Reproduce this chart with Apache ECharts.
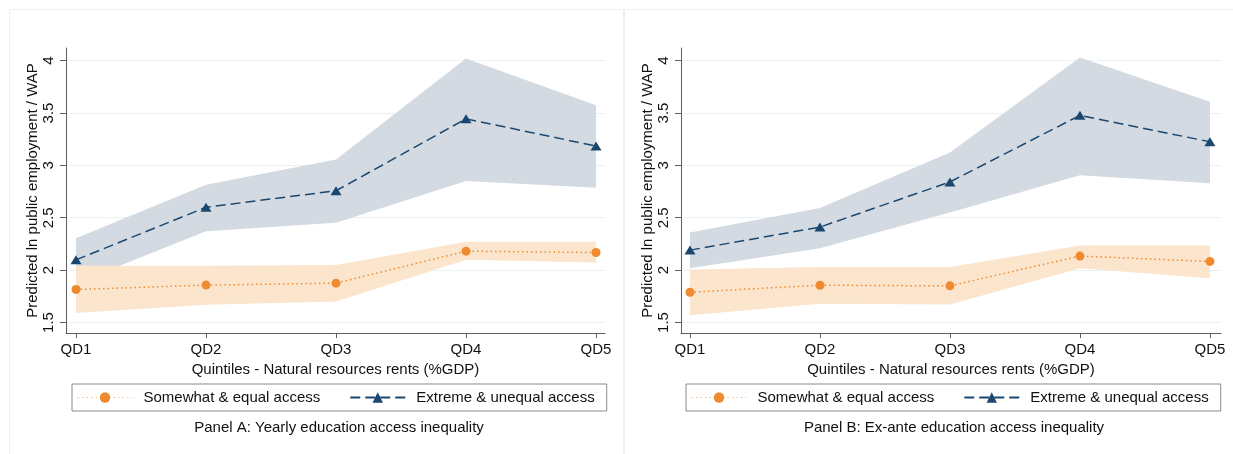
<!DOCTYPE html>
<html>
<head>
<meta charset="utf-8">
<script src="https://cdn.jsdelivr.net/npm/echarts@6/dist/echarts.min.js"></script>
<style>
  html, body { margin: 0; padding: 0; background: #fff; }
  #chart { width: 1233px; height: 454px; }
</style>
</head>
<body>
<div id="chart"></div>
<script>
// Quintile positions and tick labels
const quintiles = [1, 2, 3, 4, 5];
const quintileLabels = ['QD1', 'QD2', 'QD3', 'QD4', 'QD5'];
const yTicks = [1.5, 2, 2.5, 3, 3.5, 4];

const seriesNames = ['Somewhat & equal access', 'Extreme & unequal access'];

// Panel A: yearly education access inequality
const aEqual = [1.815, 1.857, 1.876, 2.181, 2.168];
const aEqualLo = [1.59, 1.67, 1.70, 2.098, 2.073];
const aEqualHi = [2.041, 2.041, 2.048, 2.27, 2.27];
const aUnequal = [2.098, 2.60, 2.758, 3.444, 3.184];
const aUnequalLo = [1.876, 2.371, 2.453, 2.85, 2.787];
const aUnequalHi = [2.305, 2.815, 3.057, 4.02, 3.574];

// Panel B: ex-ante education access inequality
const bEqual = [1.789, 1.856, 1.85, 2.134, 2.083];
const bEqualLo = [1.569, 1.68, 1.672, 2.019, 1.923];
const bEqualHi = [2.007, 2.029, 2.029, 2.236, 2.236];
const bUnequal = [2.191, 2.411, 2.842, 3.477, 3.225];
const bUnequalLo = [2.019, 2.21, 2.549, 2.906, 2.83];
const bUnequalHi = [2.358, 2.593, 3.123, 4.03, 3.608];

const captions = ['Panel A: Yearly education access inequality', 'Panel B: Ex-ante education access inequality'];
const xTitle = 'Quintiles - Natural resources rents (%GDP)';
const yTitle = 'Predicted ln public employment / WAP';

const FONT = '"Liberation Sans", Arial, Helvetica, sans-serif';
const FS = 15;
const NAVY = '#1a476f';
const ORANGE = '#ef8a2f';
const NAVY_BAND = '#d3dae2';
const ORANGE_BAND = '#fbe5cd';
const GRID_LINE = '#eaf1f3';
const AXIS_COLOR = '#5e5e5e';

const panels = [
  { left: 66, width: 539, xMin: 0.923, xMax: 5.069, legendLeft: 72, captionX: 339,
    eq: aEqual, eqLo: aEqualLo, eqHi: aEqualHi, un: aUnequal, unLo: aUnequalLo, unHi: aUnequalHi },
  { left: 681, width: 540, xMin: 0.931, xMax: 5.085, legendLeft: 686, captionX: 954,
    eq: bEqual, eqLo: bEqualLo, eqHi: bEqualHi, un: bUnequal, unLo: bUnequalLo, unHi: bUnequalHi }
];

function pairs(values) {
  return values.map((v, i) => [quintiles[i], v]);
}

// Confidence band drawn as one filled polygon through the axis scales
function band(idx, lo, hi, color, z) {
  return {
    type: 'custom',
    xAxisIndex: idx,
    yAxisIndex: idx,
    z: z,
    silent: true,
    data: lo.map((v, i) => [quintiles[i], v, hi[i]]),
    encode: { x: 0, y: [1, 2] },
    renderItem: function (params, api) {
      if (params.dataIndex !== 0) return null;
      const top = hi.map((v, i) => api.coord([quintiles[i], v]));
      const bottom = lo.map((v, i) => api.coord([quintiles[i], v])).reverse();
      return {
        type: 'polygon',
        shape: { points: top.concat(bottom) },
        style: { fill: color }
      };
    }
  };
}

const grids = [], xAxes = [], yAxes = [], series = [], legends = [], graphics = [];

panels.forEach((p, idx) => {
  grids.push({ left: p.left, top: 48, width: p.width, height: 285 });

  xAxes.push({
    type: 'value', gridIndex: idx, min: p.xMin, max: p.xMax,
    name: xTitle, nameLocation: 'middle', nameGap: 26,
    nameTextStyle: { fontSize: FS, color: '#111', fontFamily: FONT },
    axisLine: { show: true, onZero: false, lineStyle: { color: AXIS_COLOR, width: 1 } },
    axisTick: { show: true, length: 5, customValues: quintiles, lineStyle: { color: AXIS_COLOR } },
    axisLabel: {
      customValues: quintiles, margin: 9, fontSize: FS, color: '#111', fontFamily: FONT,
      formatter: v => quintileLabels[quintiles.indexOf(Math.round(v))] || ''
    },
    splitLine: { show: false }
  });

  yAxes.push({
    type: 'value', gridIndex: idx, min: 1.4, max: 4.12,
    name: yTitle, nameLocation: 'middle', nameGap: 24,
    nameTextStyle: { fontSize: FS, color: '#111', fontFamily: FONT },
    axisLine: { show: true, onZero: false, lineStyle: { color: AXIS_COLOR, width: 1 } },
    axisTick: { show: true, length: 6, customValues: yTicks, lineStyle: { color: AXIS_COLOR } },
    axisLabel: {
      customValues: yTicks, rotate: 90, margin: 10, fontSize: FS, color: '#111', fontFamily: FONT,
      formatter: v => String(v)
    },
    splitLine: { show: true, lineStyle: { color: GRID_LINE, width: 1 } }
  });

  series.push(band(idx, p.unLo, p.unHi, NAVY_BAND, 1));
  series.push(band(idx, p.eqLo, p.eqHi, ORANGE_BAND, 2));

  series.push({
    name: seriesNames[0], type: 'line', xAxisIndex: idx, yAxisIndex: idx, z: 5,
    data: pairs(p.eq),
    symbol: 'circle', symbolSize: 9,
    lineStyle: { color: ORANGE, width: 1.5, type: [1.5, 3] },
    itemStyle: { color: ORANGE }
  });
  series.push({
    name: seriesNames[1], type: 'line', xAxisIndex: idx, yAxisIndex: idx, z: 6,
    data: pairs(p.un),
    symbol: 'triangle', symbolSize: [11, 9],
    lineStyle: { color: NAVY, width: 1.5, type: [10, 5] },
    itemStyle: { color: NAVY }
  });

  legends.push({
    data: [
      { name: seriesNames[0], lineStyle: { width: 1, opacity: 0.55 } },
      { name: seriesNames[1] }
    ],
    left: p.legendLeft, top: 384,
    orient: 'horizontal',
    itemWidth: 55, itemHeight: 13, itemGap: 29,
    padding: [6, 12, 6, 5],
    borderColor: '#8a8a8a', borderWidth: 1, borderRadius: 0,
    selectedMode: false,
    textStyle: { fontSize: FS, color: '#111', fontFamily: FONT, padding: [0, 0, 0, 6] }
  });

  // Panel frame and caption
  graphics.push({
    type: 'rect', left: idx === 0 ? 7 : 622, top: 7, silent: true, z: -10,
    shape: { width: idx === 0 ? 614 : 611, height: 460 },
    style: { fill: 'none', stroke: '#efefef', lineWidth: 1 }
  });
  graphics.push({
    type: 'text', x: p.captionX, y: 428, silent: true,
    style: { text: captions[idx], align: 'center', verticalAlign: 'middle',
             fontSize: FS, fill: '#111', fontFamily: FONT }
  });
});

const chart = echarts.init(document.getElementById('chart'), null, { renderer: 'canvas' });
chart.setOption({
  animation: false,
  backgroundColor: '#ffffff',
  textStyle: { fontFamily: FONT },
  grid: grids,
  xAxis: xAxes,
  yAxis: yAxes,
  legend: legends,
  graphic: graphics,
  series: series
});
</script>
</body>
</html>
